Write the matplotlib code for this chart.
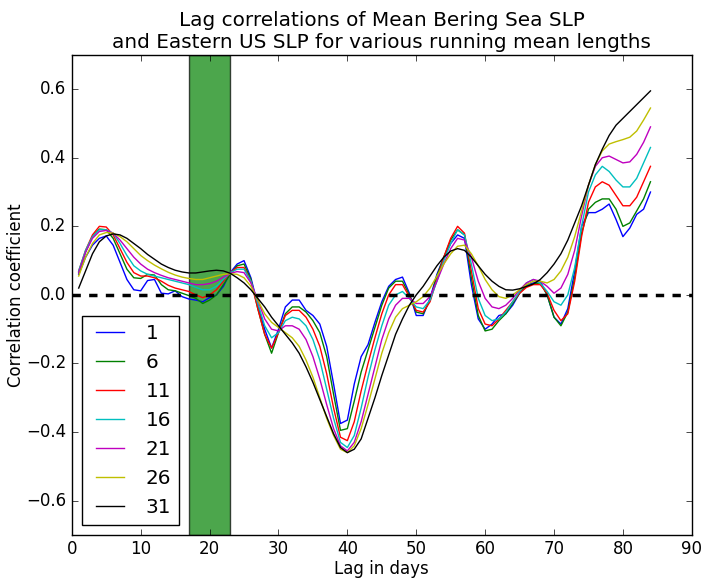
import matplotlib
matplotlib.use("Agg")
import matplotlib.pyplot as plt
import numpy as np

plt.style.use('classic')
plt.rcParams['figure.facecolor'] = 'white'
plt.rcParams['savefig.facecolor'] = 'white'

lags = np.arange(1, 85)
run_lengths = [1, 6, 11, 16, 21, 26, 31]
line_colors = ['b', 'g', 'r', 'c', 'm', 'y', 'k']

# correlation for each running mean length
corr_1 = [0.06, 0.11, 0.145, 0.165, 0.172, 0.145, 0.095, 0.045, 0.015, 0.012,
          0.042, 0.045, 0.005, 0.003, 0.012, -0.005, -0.012, -0.015, -0.02, -0.008,
          0.0, 0.025, 0.065, 0.09, 0.10, 0.05, -0.03, -0.10, -0.155, -0.10,
          -0.035, -0.015, -0.015, -0.045, -0.06, -0.085, -0.15, -0.26, -0.375, -0.365,
          -0.26, -0.18, -0.145, -0.08, -0.02, 0.025, 0.045, 0.052, 0.005, -0.06,
          -0.06, -0.01, 0.06, 0.11, 0.15, 0.175, 0.165, 0.03, -0.07, -0.10,
          -0.085, -0.06, -0.055, -0.03, 0.005, 0.03, 0.035, 0.04, 0.0, -0.065,
          -0.085, -0.04, 0.07, 0.20, 0.24, 0.24, 0.25, 0.265, 0.22, 0.17,
          0.195, 0.235, 0.25, 0.30]
corr_6 = [0.065, 0.125, 0.17, 0.192, 0.19, 0.165, 0.12, 0.075, 0.05, 0.048,
          0.06, 0.058, 0.03, 0.015, 0.012, 0.005, -0.002, -0.01, -0.025, -0.015,
          0.0, 0.03, 0.06, 0.085, 0.09, 0.045, -0.04, -0.115, -0.17, -0.11,
          -0.055, -0.035, -0.035, -0.05, -0.075, -0.11, -0.18, -0.29, -0.395, -0.39,
          -0.31, -0.225, -0.16, -0.095, -0.03, 0.02, 0.04, 0.04, 0.0, -0.05,
          -0.055, -0.015, 0.055, 0.11, 0.16, 0.19, 0.175, 0.05, -0.06, -0.105,
          -0.10, -0.075, -0.055, -0.025, 0.005, 0.025, 0.032, 0.035, 0.0, -0.065,
          -0.09, -0.05, 0.05, 0.18, 0.25, 0.27, 0.28, 0.28, 0.25, 0.20,
          0.21, 0.245, 0.28, 0.33]
corr_11 = [0.07, 0.13, 0.175, 0.20, 0.198, 0.175, 0.135, 0.095, 0.065, 0.055,
           0.055, 0.05, 0.04, 0.028, 0.02, 0.015, 0.01, 0.0, -0.008, 0.0,
           0.015, 0.04, 0.065, 0.08, 0.08, 0.04, -0.04, -0.115, -0.155, -0.11,
           -0.06, -0.045, -0.045, -0.065, -0.10, -0.15, -0.23, -0.33, -0.415, -0.425,
           -0.37, -0.28, -0.20, -0.125, -0.055, 0.0, 0.03, 0.03, -0.005, -0.045,
           -0.05, -0.02, 0.045, 0.11, 0.165, 0.20, 0.18, 0.07, -0.04, -0.085,
           -0.09, -0.07, -0.045, -0.02, 0.005, 0.022, 0.03, 0.03, 0.005, -0.045,
           -0.075, -0.055, 0.04, 0.17, 0.27, 0.315, 0.33, 0.32, 0.29, 0.26,
           0.26, 0.285, 0.33, 0.375]
corr_16 = [0.07, 0.13, 0.17, 0.19, 0.19, 0.18, 0.15, 0.115, 0.085, 0.07,
           0.06, 0.055, 0.05, 0.045, 0.04, 0.035, 0.03, 0.022, 0.015, 0.015,
           0.025, 0.045, 0.065, 0.075, 0.075, 0.04, -0.025, -0.09, -0.125, -0.11,
           -0.075, -0.065, -0.07, -0.09, -0.13, -0.19, -0.275, -0.36, -0.43, -0.445,
           -0.41, -0.33, -0.24, -0.16, -0.09, -0.03, 0.0, 0.01, -0.01, -0.035,
           -0.04, -0.015, 0.04, 0.10, 0.15, 0.19, 0.175, 0.09, -0.01, -0.06,
           -0.075, -0.07, -0.05, -0.02, 0.01, 0.035, 0.045, 0.035, 0.01, -0.02,
           -0.03, 0.0, 0.08, 0.20, 0.30, 0.35, 0.375, 0.36, 0.335, 0.315,
           0.315, 0.34, 0.385, 0.43]
corr_21 = [0.065, 0.125, 0.165, 0.185, 0.188, 0.18, 0.16, 0.135, 0.11, 0.09,
           0.075, 0.065, 0.057, 0.05, 0.045, 0.04, 0.035, 0.03, 0.03, 0.033,
           0.04, 0.052, 0.063, 0.068, 0.065, 0.035, -0.015, -0.07, -0.10, -0.105,
           -0.09, -0.09, -0.10, -0.13, -0.18, -0.245, -0.32, -0.39, -0.44, -0.455,
           -0.43, -0.37, -0.29, -0.21, -0.13, -0.07, -0.03, -0.01, -0.01, -0.025,
           -0.025, -0.005, 0.04, 0.09, 0.135, 0.165, 0.16, 0.11, 0.04, -0.01,
           -0.035, -0.04, -0.03, -0.01, 0.015, 0.035, 0.045, 0.04, 0.025, 0.005,
           0.02, 0.06, 0.13, 0.23, 0.32, 0.375, 0.40, 0.405, 0.395, 0.385,
           0.388, 0.41, 0.445, 0.49]
corr_26 = [0.055, 0.11, 0.15, 0.175, 0.182, 0.18, 0.17, 0.155, 0.135, 0.115,
           0.10, 0.087, 0.076, 0.066, 0.058, 0.052, 0.048, 0.045, 0.045, 0.05,
           0.055, 0.06, 0.062, 0.06, 0.05, 0.025, -0.015, -0.055, -0.08, -0.095,
           -0.11, -0.125, -0.15, -0.19, -0.24, -0.30, -0.36, -0.41, -0.45, -0.46,
           -0.44, -0.39, -0.32, -0.245, -0.17, -0.11, -0.065, -0.04, -0.03, -0.02,
           -0.005, 0.02, 0.055, 0.09, 0.12, 0.142, 0.145, 0.12, 0.085, 0.045,
           0.015, -0.005, -0.01, 0.0, 0.015, 0.03, 0.04, 0.04, 0.035, 0.045,
           0.07, 0.11, 0.17, 0.245, 0.32, 0.38, 0.42, 0.44, 0.447, 0.453,
           0.46, 0.478, 0.51, 0.545]
corr_31 = [0.02, 0.07, 0.12, 0.155, 0.172, 0.178, 0.175, 0.165, 0.15, 0.135,
           0.118, 0.104, 0.09, 0.08, 0.072, 0.067, 0.064, 0.064, 0.067, 0.07,
           0.072, 0.07, 0.063, 0.05, 0.035, 0.015, -0.01, -0.035, -0.065, -0.09,
           -0.115, -0.14, -0.17, -0.21, -0.255, -0.305, -0.355, -0.405, -0.445, -0.46,
           -0.45, -0.42, -0.36, -0.30, -0.235, -0.175, -0.115, -0.07, -0.03, 0.0,
           0.025, 0.055, 0.085, 0.11, 0.128, 0.135, 0.13, 0.11, 0.085, 0.06,
           0.04, 0.025, 0.015, 0.014, 0.018, 0.025, 0.032, 0.045, 0.065, 0.09,
           0.12, 0.16, 0.21, 0.26, 0.32, 0.38, 0.425, 0.465, 0.495, 0.515,
           0.535, 0.555, 0.575, 0.595]
all_corr = [corr_1, corr_6, corr_11, corr_16, corr_21, corr_26, corr_31]

fig = plt.figure(figsize=(7.11, 5.84), dpi=100)
ax = fig.add_axes([0.101, 0.084, 0.872, 0.822])

ax.axvspan(17, 23, facecolor='g', alpha=0.7)
for i in range(len(run_lengths)):
    ax.plot(lags, all_corr[i], color=line_colors[i], lw=1, label=str(run_lengths[i]))
ax.axhline(0, color='k', ls='--', lw=2.5)

ax.set_xlim(0, 90)
ax.set_ylim(-0.7, 0.7)
ax.set_xticks(np.arange(0, 91, 10))
ax.set_yticks([-0.6, -0.4, -0.2, 0.0, 0.2, 0.4, 0.6])
ax.set_xlabel('Lag in days', labelpad=1)
ax.set_ylabel('Correlation coefficient', labelpad=1)
ax.set_title('Lag correlations of Mean Bering Sea SLP\nand Eastern US SLP for various running mean lengths',
             fontsize=14.4)
ax.legend(loc=3, fontsize=14.4, borderpad=0.4)

fig.savefig('out.png', dpi=100)
